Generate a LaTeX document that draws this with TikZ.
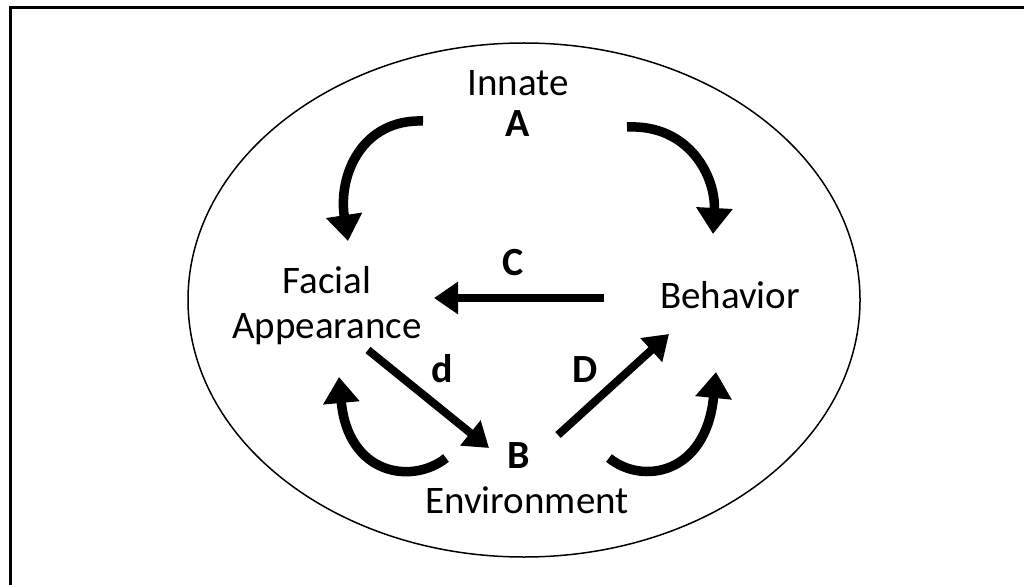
\documentclass[tikz,border=0pt]{standalone}
\usepackage{fontspec}
\setmainfont{Carlito}
\usetikzlibrary{arrows.meta}
\tikzset{
  lbl/.style={anchor=base, inner sep=0pt, font=\fontsize{39}{46}\selectfont},
  blbl/.style={lbl, font=\fontsize{40}{46}\selectfont\bfseries},
  curvearrow/.style={line width=9.5pt, -{Triangle[length=26pt,width=35pt]}},
  straightarrow/.style={line width=8pt, -{Triangle[length=24pt,width=31pt]}}
}
\begin{document}
\begin{tikzpicture}[x=1pt,y=-1pt]
\useasboundingbox (0,0) rectangle (1024,585);
\fill[white] (0,0) rectangle (1024,585);
% frame (only top and left sides visible)
\draw[line width=3pt] (1030,8) -- (10,8) -- (10,590);
% ellipse
\draw[line width=1.5pt] (524,300) ellipse [x radius=336, y radius=257];
% labels
\node[lbl] (innate) at (518,96) {Innate};
\node[blbl] (A) at (518,137) {A};
\node[lbl] (facial) at (327,293) {Facial};
\node[lbl] (appear) at (327,338) {Appearance};
\node[lbl] (behav) at (730,308) {Behavior};
\node[blbl] (C) at (513,275) {C};
\node[blbl] (d) at (442,382) {d};
\node[blbl] (D) at (585,382) {D};
\node[blbl] (B) at (519,468) {B};
\node[lbl] (env) at (527,513) {Environment};
% arrow end points
\coordinate (tl1) at (423,121);
\coordinate (tl2) at (348,241);
\coordinate (tr1) at (627,127);
\coordinate (tr2) at (713,234);
\coordinate (bl1) at (446,458);
\coordinate (bl2) at (339,377);
\coordinate (br1) at (609,458);
\coordinate (br2) at (716,372);
\coordinate (c1) at (604,298);
\coordinate (c2) at (434,298);
\coordinate (dd1) at (368,350);
\coordinate (dd2) at (489,448);
\coordinate (DD1) at (558,435);
\coordinate (DD2) at (669,334);
% curved arrows
\draw[curvearrow] (tl1) .. controls (362,119) and (338,175) .. (tl2);
\draw[curvearrow] (tr1) .. controls (690,124) and (716,178) .. (tr2);
\draw[curvearrow] (bl1) .. controls (412,485) and (348,475) .. (bl2);
\draw[curvearrow] (br1) .. controls (642,485) and (706,475) .. (br2);
% straight arrows
\draw[straightarrow] (c1) -- (c2);
\draw[straightarrow] (dd1) -- (dd2);
\draw[straightarrow] (DD1) -- (DD2);
\end{tikzpicture}
\end{document}
